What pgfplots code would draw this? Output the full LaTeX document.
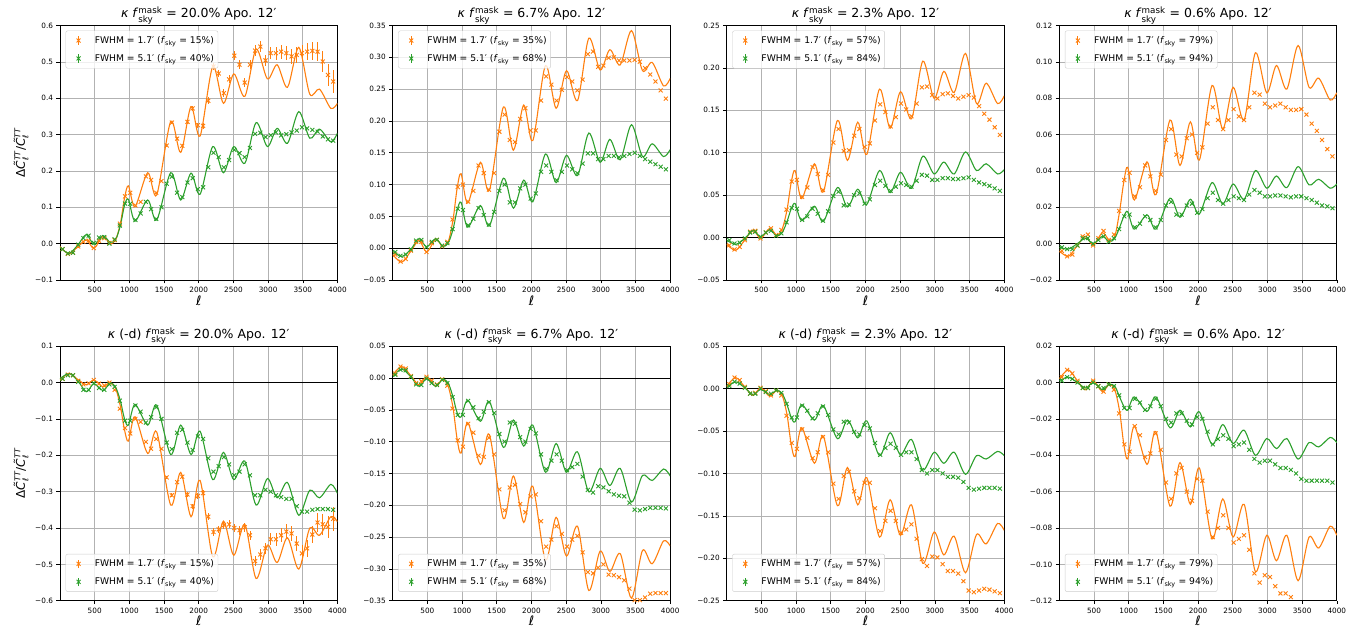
\documentclass[border=0pt]{standalone}
\usepackage{amsmath}
\usepackage{fontspec}
\setmainfont{DejaVu Sans}
\usepackage{pgfplots}
\usepackage{pgfplotstable}
\pgfplotsset{compat=1.18}
\definecolor{corange}{HTML}{FF7F0E}
\definecolor{cgreen}{HTML}{2CA02C}

\pgfplotstableread{
x a1o a1g a2o a2g a3o a3g a4o a4g b1o b1g b2o b2g b3o b3g b4o b4g
0 -0.008 -0.010 -0.010 -0.005 -0.008 -0.003 -0.004 -0.002 0.008 0.010 0.005 0.003 0.003 0.002 0.002 0.001
130 -0.028 -0.027 -0.022 -0.013 -0.015 -0.008 -0.007 -0.003 0.025 0.025 0.018 0.014 0.013 0.008 0.007 0.003
260 -0.008 -0.003 -0.005 -0.002 -0.003 -0.001 -0.001 0.000 0.008 0.004 0.004 0.002 0.002 0.001 0.001 0.000
380 0.010 0.025 0.012 0.015 0.009 0.008 0.004 0.003 -0.006 -0.025 -0.011 -0.013 -0.008 -0.007 -0.004 -0.003
490 -0.013 -0.002 -0.006 0.002 -0.001 0.001 -0.001 0.000 0.007 -0.003 0.002 -0.001 0.001 -0.001 0.001 0.000
620 0.020 0.022 0.014 0.015 0.011 0.009 0.006 0.004 -0.012 -0.022 -0.013 -0.013 -0.009 -0.007 -0.005 -0.004
720 0.000 0.004 0.003 0.003 0.003 0.002 0.002 0.001 0.000 -0.002 -0.002 -0.002 -0.002 -0.002 -0.001 -0.001
800 0.010 0.010 0.010 0.008 0.010 0.006 0.004 0.003 -0.015 -0.012 -0.013 -0.008 -0.008 -0.006 -0.004 -0.002
870 0.055 0.050 0.045 0.030 0.033 0.019 0.018 0.009 -0.065 -0.050 -0.047 -0.030 -0.031 -0.019 -0.016 -0.008
930 0.125 0.105 0.095 0.060 0.065 0.034 0.034 0.015 -0.130 -0.100 -0.097 -0.055 -0.066 -0.034 -0.034 -0.013
986 0.159 0.122 0.117 0.072 0.079 0.040 0.042 0.0176 -0.161 -0.117 -0.118 -0.061 -0.080 -0.039 -0.042 -0.0152
1082 0.102 0.062 0.071 0.033 0.046 0.020 0.024 0.008 -0.094 -0.060 -0.070 -0.035 -0.046 -0.019 -0.024 -0.0079
1264 0.195 0.120 0.135 0.067 0.087 0.037 0.045 0.0158 -0.195 -0.117 -0.136 -0.068 -0.088 -0.037 -0.045 -0.0158
1394 0.134 0.065 0.091 0.035 0.054 0.019 0.027 0.008 -0.136 -0.062 -0.089 -0.037 -0.056 -0.020 -0.027 -0.0079
1596 0.336 0.195 0.222 0.110 0.138 0.059 0.068 0.025 -0.337 -0.198 -0.221 -0.109 -0.138 -0.059 -0.068 -0.0249
1740 0.251 0.120 0.154 0.063 0.091 0.036 0.043 0.0145 -0.247 -0.117 -0.154 -0.066 -0.093 -0.037 -0.044 -0.0152
1889 0.377 0.194 0.225 0.107 0.136 0.057 0.067 0.0244 -0.369 -0.198 -0.227 -0.107 -0.137 -0.058 -0.067 -0.0244
2019 0.296 0.136 0.169 0.073 0.098 0.039 0.046 0.0163 -0.269 -0.134 -0.170 -0.074 -0.105 -0.038 -0.047 -0.0161
2202 0.487 0.267 0.287 0.148 0.175 0.079 0.087 0.0336 -0.479 -0.267 -0.286 -0.148 -0.175 -0.079 -0.086 -0.0341
2356 0.386 0.195 0.220 0.103 0.129 0.053 0.063 0.0218 -0.381 -0.192 -0.219 -0.103 -0.131 -0.052 -0.064 -0.0231
2505 0.467 0.267 0.279 0.146 0.172 0.077 0.086 0.0328 -0.475 -0.267 -0.280 -0.148 -0.173 -0.078 -0.085 -0.0335
2664 0.405 0.221 0.232 0.114 0.140 0.058 0.068 0.0244 -0.390 -0.216 -0.233 -0.116 -0.137 -0.060 -0.067 -0.0262
2827 0.535 0.333 0.330 0.181 0.208 0.096 0.105 0.0402 -0.539 -0.337 -0.334 -0.179 -0.206 -0.096 -0.104 -0.0400
2990 0.453 0.267 0.280 0.135 0.164 0.075 0.083 0.0305 -0.447 -0.264 -0.272 -0.142 -0.169 -0.075 -0.084 -0.0308
3130 0.492 0.317 0.312 0.171 0.196 0.089 0.098 0.0372 -0.495 -0.317 -0.304 -0.169 -0.196 -0.088 -0.098 -0.0363
3279 0.430 0.276 0.288 0.139 0.171 0.075 0.085 0.0308 -0.427 -0.275 -0.276 -0.142 -0.174 -0.075 -0.084 -0.0308
3442 0.540 0.363 0.342 0.194 0.217 0.101 0.109 0.0424 -0.513 -0.365 -0.346 -0.195 -0.217 -0.101 -0.109 -0.0421
3601 0.411 0.290 0.279 0.144 0.158 0.079 0.086 0.0323 -0.400 -0.296 -0.271 -0.153 -0.172 -0.079 -0.085 -0.0330
3740 0.425 0.315 0.292 0.164 0.182 0.087 0.091 0.0354 -0.420 -0.317 -0.292 -0.161 -0.183 -0.083 -0.091 -0.0354
3904 0.372 0.280 0.255 0.144 0.158 0.075 0.079 0.0305 -0.369 -0.280 -0.256 -0.143 -0.159 -0.074 -0.079 -0.0302
4000 0.386 0.304 0.267 0.155 0.167 0.080 0.083 0.0328 -0.383 -0.305 -0.264 -0.154 -0.167 -0.079 -0.084 -0.0330
}\curves

\pgfplotstableread{
x a1o a1g a2o a2g a3o a3g a4o a4g b1o b1g b2o b2g b3o b3g b4o b4g e
37.5 -0.015 -0.015 -0.010 -0.006 -0.009 -0.003 -0.004 -0.002 0.010 0.010 0.007 0.005 0.005 0.003 0.003 0.001 0.002
112.5 -0.028 -0.027 -0.021 -0.012 -0.014 -0.007 -0.007 -0.003 0.022 0.020 0.018 0.013 0.013 0.008 0.007 0.003 0.002
187.5 -0.025 -0.025 -0.017 -0.010 -0.011 -0.006 -0.006 -0.003 0.020 0.020 0.015 0.012 0.010 0.006 0.005 0.002 0.002
262.5 -0.008 -0.003 -0.004 -0.002 -0.003 -0.001 -0.001 -0.001 0.005 0.002 0.003 0.002 0.002 0.001 0.001 0.000 0.002
337.5 0.005 0.015 0.010 0.012 0.007 0.006 0.004 0.003 -0.005 -0.020 -0.008 -0.010 -0.006 -0.006 -0.003 -0.003 0.002
412.5 0.008 0.022 0.010 0.013 0.008 0.007 0.005 0.003 -0.002 -0.020 -0.005 -0.011 -0.005 -0.006 -0.003 -0.003 0.002
487.5 -0.012 0.002 -0.006 0.002 -0.001 0.001 -0.001 0.000 0.007 -0.002 0.002 -0.001 0.001 0.000 0.001 0.000 0.002
562.5 0.008 0.017 0.008 0.010 0.006 0.006 0.003 0.002 -0.003 -0.015 -0.004 -0.008 -0.003 -0.004 -0.002 -0.002 0.002
637.5 0.015 0.018 0.013 0.013 0.011 0.008 0.007 0.004 -0.008 -0.020 -0.010 -0.011 -0.008 -0.006 -0.005 -0.003 0.002
712.5 0.002 0.000 0.003 0.004 0.003 0.002 0.002 0.001 0.000 -0.005 -0.002 -0.003 -0.002 -0.002 -0.001 -0.001 0.002
787.5 0.010 0.012 0.010 0.008 0.009 0.005 0.005 0.003 -0.020 -0.012 -0.012 -0.008 -0.008 -0.005 -0.004 -0.002 0.002
862.5 0.055 0.050 0.045 0.030 0.033 0.018 0.018 0.008 -0.072 -0.050 -0.048 -0.030 -0.032 -0.018 -0.017 -0.007 0.002
937.5 0.130 0.110 0.096 0.062 0.066 0.035 0.035 0.015 -0.125 -0.105 -0.098 -0.058 -0.064 -0.034 -0.034 -0.014 0.002
1012.5 0.140 0.110 0.100 0.060 0.068 0.034 0.039 0.016 -0.140 -0.105 -0.108 -0.058 -0.071 -0.034 -0.038 -0.014 0.002
1087.5 0.105 0.065 0.073 0.036 0.048 0.021 0.026 0.009 -0.100 -0.063 -0.072 -0.036 -0.048 -0.020 -0.024 -0.009 0.002
1162.5 0.115 0.083 0.090 0.046 0.059 0.025 0.031 0.011 -0.108 -0.080 -0.086 -0.046 -0.058 -0.026 -0.029 -0.011 0.002
1237.5 0.185 0.115 0.130 0.063 0.083 0.034 0.043 0.015 -0.163 -0.110 -0.122 -0.063 -0.082 -0.035 -0.041 -0.015 0.002
1312.5 0.175 0.095 0.118 0.052 0.075 0.028 0.037 0.013 -0.182 -0.095 -0.124 -0.053 -0.075 -0.029 -0.039 -0.013 0.002
1387.5 0.140 0.068 0.092 0.037 0.056 0.020 0.029 0.009 -0.155 -0.068 -0.094 -0.038 -0.057 -0.021 -0.028 -0.009 0.002
1462.5 0.172 0.100 0.118 0.057 0.074 0.031 0.038 0.013 -0.182 -0.100 -0.120 -0.055 -0.075 -0.031 -0.037 -0.013 0.003
1537.5 0.270 0.165 0.183 0.090 0.112 0.049 0.057 0.021 -0.261 -0.165 -0.175 -0.088 -0.112 -0.048 -0.055 -0.020 0.004
1612.5 0.333 0.184 0.210 0.100 0.128 0.054 0.063 0.023 -0.310 -0.183 -0.208 -0.100 -0.130 -0.054 -0.064 -0.022 0.005
1687.5 0.289 0.140 0.170 0.072 0.102 0.038 0.049 0.016 -0.274 -0.138 -0.172 -0.070 -0.103 -0.039 -0.050 -0.017 0.005
1762.5 0.269 0.128 0.167 0.072 0.103 0.039 0.048 0.016 -0.259 -0.130 -0.168 -0.072 -0.098 -0.040 -0.047 -0.017 0.006
1837.5 0.335 0.168 0.203 0.094 0.120 0.050 0.058 0.021 -0.308 -0.165 -0.198 -0.093 -0.121 -0.051 -0.060 -0.021 0.006
1912.5 0.372 0.180 0.220 0.100 0.128 0.052 0.060 0.022 -0.340 -0.185 -0.211 -0.100 -0.129 -0.054 -0.065 -0.023 0.007
1987.5 0.326 0.150 0.185 0.078 0.107 0.040 0.050 0.017 -0.312 -0.148 -0.186 -0.080 -0.111 -0.043 -0.053 -0.019 0.007
2062.5 0.324 0.155 0.185 0.086 0.111 0.045 0.053 0.019 -0.304 -0.155 -0.183 -0.087 -0.111 -0.047 -0.054 -0.020 0.008
2137.5 0.393 0.210 0.232 0.120 0.138 0.062 0.066 0.025 -0.369 -0.208 -0.225 -0.120 -0.141 -0.064 -0.071 -0.027 0.009
2212.5 0.487 0.250 0.270 0.130 0.157 0.067 0.075 0.028 -0.411 -0.245 -0.265 -0.143 -0.168 -0.078 -0.085 -0.034 0.010
2287.5 0.468 0.238 0.257 0.120 0.148 0.061 0.068 0.024 -0.404 -0.230 -0.254 -0.130 -0.156 -0.070 -0.080 -0.031 0.010
2362.5 0.414 0.210 0.232 0.107 0.131 0.055 0.063 0.022 -0.392 -0.205 -0.233 -0.120 -0.144 -0.065 -0.073 -0.029 0.011
2437.5 0.452 0.230 0.249 0.120 0.142 0.060 0.068 0.024 -0.390 -0.225 -0.245 -0.130 -0.156 -0.070 -0.080 -0.031 0.011
2512.5 0.517 0.258 0.269 0.130 0.158 0.064 0.074 0.026 -0.400 -0.255 -0.265 -0.145 -0.170 -0.078 -0.088 -0.035 0.012
2587.5 0.492 0.249 0.262 0.124 0.151 0.062 0.070 0.025 -0.406 -0.245 -0.254 -0.140 -0.166 -0.075 -0.086 -0.034 0.012
2662.5 0.443 0.238 0.248 0.118 0.143 0.060 0.068 0.024 -0.398 -0.225 -0.248 -0.135 -0.160 -0.075 -0.084 -0.033 0.013
2737.5 0.492 0.263 0.265 0.133 0.158 0.067 0.075 0.027 -0.420 -0.255 -0.274 -0.155 -0.177 -0.083 -0.092 -0.037 0.013
2812.5 0.531 0.302 0.305 0.149 0.177 0.074 0.083 0.0295 -0.491 -0.310 -0.305 -0.176 -0.201 -0.096 -0.105 -0.042 0.014
2887.5 0.542 0.305 0.309 0.149 0.178 0.073 0.082 0.028 -0.473 -0.310 -0.307 -0.180 -0.209 -0.100 -0.110 -0.044 0.015
2962.5 0.504 0.293 0.285 0.140 0.168 0.068 0.077 0.026 -0.456 -0.295 -0.298 -0.170 -0.198 -0.096 -0.106 -0.043 0.016
3037.5 0.524 0.298 0.287 0.140 0.164 0.068 0.075 0.026 -0.431 -0.300 -0.293 -0.172 -0.199 -0.096 -0.107 -0.043 0.017
3112.5 0.524 0.306 0.299 0.145 0.169 0.070 0.076 0.0265 -0.431 -0.310 -0.309 -0.178 -0.207 -0.100 -0.112 -0.045 0.018
3187.5 0.528 0.298 0.300 0.145 0.170 0.070 0.077 0.0265 -0.420 -0.315 -0.310 -0.183 -0.215 -0.104 -0.116 -0.047 0.019
3262.5 0.524 0.301 0.295 0.143 0.167 0.069 0.075 0.026 -0.410 -0.320 -0.313 -0.185 -0.215 -0.104 -0.116 -0.047 0.020
3337.5 0.515 0.306 0.295 0.145 0.164 0.069 0.0736 0.0255 -0.415 -0.320 -0.318 -0.186 -0.218 -0.105 -0.118 -0.048 0.020
3412.5 0.519 0.311 0.295 0.148 0.166 0.070 0.0736 0.026 -0.443 -0.340 -0.331 -0.196 -0.227 -0.110 -0.121 -0.050 0.021
3487.5 0.524 0.320 0.296 0.150 0.168 0.071 0.074 0.026 -0.470 -0.355 -0.349 -0.207 -0.238 -0.117 -0.124 -0.053 0.022
3562.5 0.528 0.317 0.293 0.145 0.165 0.068 0.071 0.025 -0.456 -0.355 -0.349 -0.208 -0.240 -0.119 -0.125 -0.054 0.023
3637.5 0.530 0.313 0.283 0.140 0.155 0.065 0.066 0.024 -0.418 -0.350 -0.345 -0.206 -0.238 -0.118 -0.126 -0.054 0.024
3712.5 0.528 0.308 0.273 0.136 0.146 0.063 0.062 0.0225 -0.385 -0.348 -0.339 -0.204 -0.236 -0.117 -0.127 -0.054 0.026
3787.5 0.501 0.295 0.262 0.132 0.139 0.061 0.057 0.021 -0.390 -0.348 -0.338 -0.204 -0.237 -0.117 -0.128 -0.054 0.028
3862.5 0.464 0.287 0.248 0.128 0.130 0.058 0.052 0.0205 -0.397 -0.348 -0.338 -0.204 -0.239 -0.117 -0.129 -0.054 0.030
3937.5 0.446 0.283 0.235 0.124 0.121 0.055 0.048 0.0195 -0.375 -0.350 -0.338 -0.205 -0.241 -0.118 -0.130 -0.055 0.032
}\pts

\pgfplotsset{
  panel/.style={
    scale only axis, width=277.5pt, height=254.5pt, anchor=south west,
    xmin=0, xmax=4000,
    xtick={500,1000,1500,2000,2500,3000,3500,4000},
    xticklabels={500,1000,1500,2000,2500,3000,3500,4000},
    xtick pos=bottom, ytick pos=left,
    tick align=outside, major tick length=3.5pt,
    tick style={black, line width=0.6pt},
    grid=major, major grid style={color=black!30, line width=0.7pt},
    axis line style={line width=0.8pt},
    ticklabel style={font=\fontsize{7.3}{8.5}\selectfont},
    xlabel={\textit{ℓ}}, xlabel style={font=\fontsize{13}{14}\selectfont, yshift=4pt},
    ylabel style={font=\fontsize{12}{14}\selectfont},
    title style={font=\fontsize{12.5}{14}\selectfont, yshift=-8pt},
    legend cell align=left,
    legend style={font=\fontsize{9.2}{11}\selectfont, draw=black!20, rounded corners=2pt,
      fill=white, fill opacity=0.8, text opacity=1, inner xsep=2pt, inner ysep=3.5pt, row sep=5.5pt},
  },
  toplegend/.style={legend style={at={(0.02,0.98)}, anchor=north west}},
  botlegend/.style={legend style={at={(0.02,0.035)}, anchor=south west}},
  curve/.style={line width=1.1pt, smooth, no markers, forget plot},
  zero/.style={black, line width=0.9pt, no markers, forget plot},
  pts/.style={only marks, mark=x, mark size=2.8pt, mark options={line width=0.9pt},
    legend image code/.code={
      \path[draw=none] (0cm,-0.1cm) (0.88cm,0.1cm);
      \draw[##1] plot coordinates {(0.38cm,0cm)};
      \draw[##1, line width=0.8pt] (0.38cm,-0.15cm) -- (0.38cm,0.15cm);
    }},
  ebar/.style={error bars/.cd, y dir=both, y explicit, error mark=none, error bar style={line width=0.8pt}},
}

\newcommand{\ylab}{Δ\textit{C̃}$^{\textit{TT}}_{\textit{ℓ}}$/\textit{C̃}$^{\textit{TT}}_{\textit{ℓ}}$}

\begin{document}
\begin{tikzpicture}

% ---------- top row ----------
\begin{axis}[panel, toplegend, at={(60pt,355pt)}, ymin=-0.1, ymax=0.6,
  ytick={-0.1,0,0.1,0.2,0.3,0.4,0.5,0.6}, yticklabels={−0.1,0.0,0.1,0.2,0.3,0.4,0.5,0.6},
  ylabel={\ylab},
  title={\textit{κ} \textit{f}$^{\text{mask}}_{\text{sky}}$ = 20.0\% Apo. 12′}]
\addplot[zero] coordinates {(0,0) (4000,0)};
\addplot[curve, corange] table[x=x,y=a1o]{\curves};
\addplot[curve, cgreen] table[x=x,y=a1g]{\curves};
\addplot[pts, corange, ebar] table[x=x,y=a1o,y error=e]{\pts};
\addlegendentry{FWHM = 1.7′ (\textit{f}$_{\text{sky}}$ = 15\%)}
\addplot[pts, cgreen] table[x=x,y=a1g]{\pts};
\addlegendentry{FWHM = 5.1′ (\textit{f}$_{\text{sky}}$ = 40\%)}
\end{axis}

\begin{axis}[panel, toplegend, at={(392.7pt,355pt)}, ymin=-0.05, ymax=0.35,
  ytick={-0.05,0,0.05,0.1,0.15,0.2,0.25,0.3,0.35}, yticklabels={−0.05,0.00,0.05,0.10,0.15,0.20,0.25,0.30,0.35},
  title={\textit{κ} \textit{f}$^{\text{mask}}_{\text{sky}}$ = 6.7\% Apo. 12′}]
\addplot[zero] coordinates {(0,0) (4000,0)};
\addplot[curve, corange] table[x=x,y=a2o]{\curves};
\addplot[curve, cgreen] table[x=x,y=a2g]{\curves};
\addplot[pts, corange] table[x=x,y=a2o]{\pts};
\addlegendentry{FWHM = 1.7′ (\textit{f}$_{\text{sky}}$ = 35\%)}
\addplot[pts, cgreen] table[x=x,y=a2g]{\pts};
\addlegendentry{FWHM = 5.1′ (\textit{f}$_{\text{sky}}$ = 68\%)}
\end{axis}

\begin{axis}[panel, toplegend, at={(726.7pt,355pt)}, ymin=-0.05, ymax=0.25,
  ytick={-0.05,0,0.05,0.1,0.15,0.2,0.25}, yticklabels={−0.05,0.00,0.05,0.10,0.15,0.20,0.25},
  title={\textit{κ} \textit{f}$^{\text{mask}}_{\text{sky}}$ = 2.3\% Apo. 12′}]
\addplot[zero] coordinates {(0,0) (4000,0)};
\addplot[curve, corange] table[x=x,y=a3o]{\curves};
\addplot[curve, cgreen] table[x=x,y=a3g]{\curves};
\addplot[pts, corange] table[x=x,y=a3o]{\pts};
\addlegendentry{FWHM = 1.7′ (\textit{f}$_{\text{sky}}$ = 57\%)}
\addplot[pts, cgreen] table[x=x,y=a3g]{\pts};
\addlegendentry{FWHM = 5.1′ (\textit{f}$_{\text{sky}}$ = 84\%)}
\end{axis}

\begin{axis}[panel, toplegend, at={(1059.3pt,355pt)}, ymin=-0.02, ymax=0.12,
  ytick={-0.02,0,0.02,0.04,0.06,0.08,0.1,0.12}, yticklabels={−0.02,0.00,0.02,0.04,0.06,0.08,0.10,0.12},
  title={\textit{κ} \textit{f}$^{\text{mask}}_{\text{sky}}$ = 0.6\% Apo. 12′}]
\addplot[zero] coordinates {(0,0) (4000,0)};
\addplot[curve, corange] table[x=x,y=a4o]{\curves};
\addplot[curve, cgreen] table[x=x,y=a4g]{\curves};
\addplot[pts, corange] table[x=x,y=a4o]{\pts};
\addlegendentry{FWHM = 1.7′ (\textit{f}$_{\text{sky}}$ = 79\%)}
\addplot[pts, cgreen] table[x=x,y=a4g]{\pts};
\addlegendentry{FWHM = 5.1′ (\textit{f}$_{\text{sky}}$ = 94\%)}
\end{axis}

% ---------- bottom row ----------
\begin{axis}[panel, botlegend, at={(60pt,34.3pt)}, ymin=-0.6, ymax=0.1,
  ytick={-0.6,-0.5,-0.4,-0.3,-0.2,-0.1,0,0.1}, yticklabels={−0.6,−0.5,−0.4,−0.3,−0.2,−0.1,0.0,0.1},
  ylabel={\ylab},
  title={\textit{κ} (-d) \textit{f}$^{\text{mask}}_{\text{sky}}$ = 20.0\% Apo. 12′}]
\addplot[zero] coordinates {(0,0) (4000,0)};
\addplot[curve, corange] table[x=x,y=b1o]{\curves};
\addplot[curve, cgreen] table[x=x,y=b1g]{\curves};
\addplot[pts, corange, ebar] table[x=x,y=b1o,y error=e]{\pts};
\addlegendentry{FWHM = 1.7′ (\textit{f}$_{\text{sky}}$ = 15\%)}
\addplot[pts, cgreen] table[x=x,y=b1g]{\pts};
\addlegendentry{FWHM = 5.1′ (\textit{f}$_{\text{sky}}$ = 40\%)}
\end{axis}

\begin{axis}[panel, botlegend, at={(392.7pt,34.3pt)}, ymin=-0.35, ymax=0.05,
  ytick={-0.35,-0.3,-0.25,-0.2,-0.15,-0.1,-0.05,0,0.05}, yticklabels={−0.35,−0.30,−0.25,−0.20,−0.15,−0.10,−0.05,0.00,0.05},
  title={\textit{κ} (-d) \textit{f}$^{\text{mask}}_{\text{sky}}$ = 6.7\% Apo. 12′}]
\addplot[zero] coordinates {(0,0) (4000,0)};
\addplot[curve, corange] table[x=x,y=b2o]{\curves};
\addplot[curve, cgreen] table[x=x,y=b2g]{\curves};
\addplot[pts, corange] table[x=x,y=b2o]{\pts};
\addlegendentry{FWHM = 1.7′ (\textit{f}$_{\text{sky}}$ = 35\%)}
\addplot[pts, cgreen] table[x=x,y=b2g]{\pts};
\addlegendentry{FWHM = 5.1′ (\textit{f}$_{\text{sky}}$ = 68\%)}
\end{axis}

\begin{axis}[panel, botlegend, at={(726.7pt,34.3pt)}, ymin=-0.25, ymax=0.05,
  ytick={-0.25,-0.2,-0.15,-0.1,-0.05,0,0.05}, yticklabels={−0.25,−0.20,−0.15,−0.10,−0.05,0.00,0.05},
  title={\textit{κ} (-d) \textit{f}$^{\text{mask}}_{\text{sky}}$ = 2.3\% Apo. 12′}]
\addplot[zero] coordinates {(0,0) (4000,0)};
\addplot[curve, corange] table[x=x,y=b3o]{\curves};
\addplot[curve, cgreen] table[x=x,y=b3g]{\curves};
\addplot[pts, corange] table[x=x,y=b3o]{\pts};
\addlegendentry{FWHM = 1.7′ (\textit{f}$_{\text{sky}}$ = 57\%)}
\addplot[pts, cgreen] table[x=x,y=b3g]{\pts};
\addlegendentry{FWHM = 5.1′ (\textit{f}$_{\text{sky}}$ = 84\%)}
\end{axis}

\begin{axis}[panel, botlegend, at={(1059.3pt,34.3pt)}, ymin=-0.12, ymax=0.02,
  ytick={-0.12,-0.1,-0.08,-0.06,-0.04,-0.02,0,0.02}, yticklabels={−0.12,−0.10,−0.08,−0.06,−0.04,−0.02,0.00,0.02},
  title={\textit{κ} (-d) \textit{f}$^{\text{mask}}_{\text{sky}}$ = 0.6\% Apo. 12′}]
\addplot[zero] coordinates {(0,0) (4000,0)};
\addplot[curve, corange] table[x=x,y=b4o]{\curves};
\addplot[curve, cgreen] table[x=x,y=b4g]{\curves};
\addplot[pts, corange, restrict y to domain=-0.1205:0.02] table[x=x,y=b4o]{\pts};
\addlegendentry{FWHM = 1.7′ (\textit{f}$_{\text{sky}}$ = 79\%)}
\addplot[pts, cgreen] table[x=x,y=b4g]{\pts};
\addlegendentry{FWHM = 5.1′ (\textit{f}$_{\text{sky}}$ = 94\%)}
\end{axis}

\pgfresetboundingbox
\path[use as bounding box] (0pt,0pt) rectangle (1369pt,635pt);
\end{tikzpicture}
\end{document}
